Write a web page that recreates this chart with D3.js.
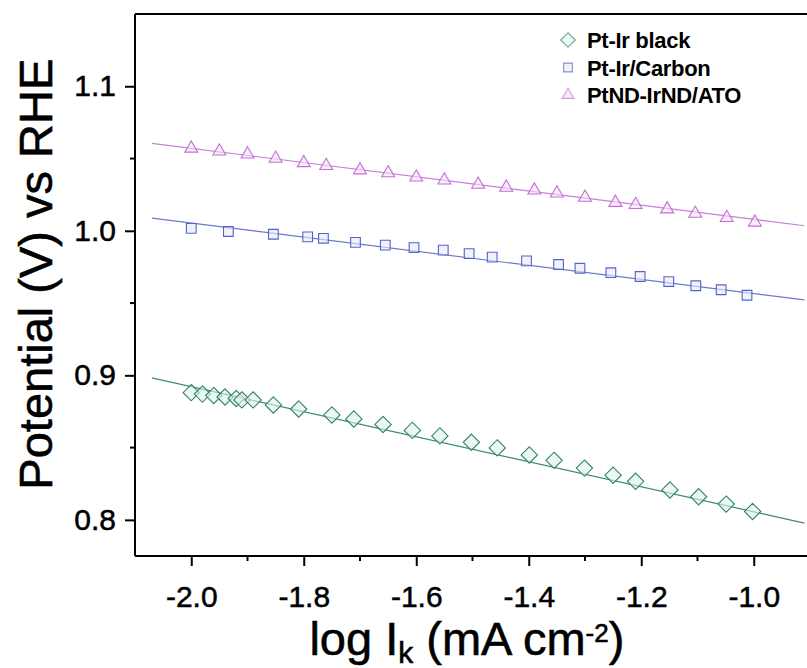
<!DOCTYPE html>
<html>
<head>
<meta charset="utf-8">
<script src="https://cdn.jsdelivr.net/npm/d3@7"></script>
<style>
  body { margin: 0; background: #fff; }
  svg { display: block; font-family: "Liberation Sans", Arial, sans-serif; }
</style>
</head>
<body>
<div id="chart"></div>
<script>
// data: log Ik vs potential (V vs RHE)
const blackX = [-2.00, -1.98, -1.96, -1.94, -1.92, -1.91, -1.89, -1.854, -1.809, -1.750, -1.711, -1.659, -1.607, -1.558, -1.502, -1.456, -1.399, -1.355, -1.301, -1.250, -1.210, -1.149, -1.098, -1.049, -1.002];
const blackY = [0.888, 0.887, 0.886, 0.885, 0.884, 0.883, 0.883, 0.8795, 0.8767, 0.8726, 0.8698, 0.8660, 0.8619, 0.8581, 0.8537, 0.8498, 0.8449, 0.8412, 0.8358, 0.8309, 0.8267, 0.8207, 0.8160, 0.8109, 0.8058];
const carbonX = [-2.000, -1.934, -1.854, -1.793, -1.765, -1.708, -1.655, -1.604, -1.552, -1.506, -1.465, -1.404, -1.347, -1.309, -1.254, -1.202, -1.151, -1.103, -1.058, -1.012];
const carbonY = [1.0017, 0.9995, 0.9976, 0.9958, 0.9948, 0.9920, 0.9901, 0.9884, 0.9866, 0.9842, 0.9818, 0.9792, 0.9767, 0.9741, 0.9710, 0.9684, 0.9649, 0.9620, 0.9592, 0.9554];
const atoX = [-2.00, -1.95, -1.90, -1.85, -1.80, -1.76, -1.70, -1.65, -1.60, -1.55, -1.49, -1.44, -1.39, -1.35, -1.30, -1.246, -1.210, -1.154, -1.104, -1.048, -0.998];
const atoY = [1.057, 1.055, 1.053, 1.050, 1.047, 1.045, 1.042, 1.040, 1.037, 1.035, 1.032, 1.030, 1.028, 1.026, 1.023, 1.0195, 1.018, 1.015, 1.012, 1.009, 1.0058];

// fitted lines (start, end)
const fitX = [-2.07, -0.91];
const blackFit = [0.8982, 0.7978];
const carbonFit = [1.0088, 0.9522];
const atoFit = [1.0605, 1.0035];

const seriesNames = ["Pt-Ir black", "Pt-Ir/Carbon", "PtND-IrND/ATO"];
const xTicks = [-2.0, -1.8, -1.6, -1.4, -1.2, -1.0];
const xMinor = [-1.9, -1.7, -1.5, -1.3, -1.1];
const yTicks = [0.8, 0.9, 1.0, 1.1];
const yMinor = [0.85, 0.95, 1.05];

const width = 807, height = 668;
const margin = { top: 14, left: 135, bottom: 112, right: -3 };

const svg = d3.select("#chart").append("svg")
    .attr("width", width)
    .attr("height", height);

const x = d3.scaleLinear().domain([-2.1, -0.9]).range([margin.left, width - margin.right]);
const y = d3.scaleLinear().domain([0.775, 1.15]).range([height - margin.bottom, margin.top]);

const series = [
    { name: seriesNames[0], xs: blackX, ys: blackY, fit: blackFit, color: "#2f8468", fill: "#dff0ea", line: "#3a8c70", shape: d3.symbolDiamond2, size: 170 },
    { name: seriesNames[1], xs: carbonX, ys: carbonY, fit: carbonFit, color: "#5563c8", fill: "#e6ebf8", line: "#6d78cf", shape: d3.symbolSquare2, size: 120 },
    { name: seriesNames[2], xs: atoX, ys: atoY, fit: atoFit, color: "#c56fd6", fill: "#f4e2f6", line: "#c77ed8", shape: d3.symbolTriangle2, size: 120 }
];

const plot = svg.append("g");

// fit lines
series.forEach(s => {
    plot.append("line")
        .attr("x1", x(fitX[0])).attr("y1", y(s.fit[0]))
        .attr("x2", x(fitX[1])).attr("y2", y(s.fit[1]))
        .attr("stroke", s.line)
        .attr("stroke-width", 1.2);
});

// markers
series.forEach(s => {
    plot.selectAll(null)
        .data(s.xs.map((v, i) => [v, s.ys[i]]))
        .enter()
        .append("path")
        .attr("d", d3.symbol().type(s.shape).size(s.size))
        .attr("transform", d => `translate(${x(d[0])},${y(d[1])})`)
        .attr("fill", s.fill)
        .attr("fill-opacity", 0.6)
        .attr("stroke", s.color)
        .attr("stroke-width", 1.1);
});

// top frame line
svg.append("line")
    .attr("x1", margin.left).attr("x2", width)
    .attr("y1", margin.top).attr("y2", margin.top)
    .attr("stroke", "#000").attr("stroke-width", 2);

// x axis
const xAxis = svg.append("g")
    .attr("transform", `translate(0,${height - margin.bottom})`)
    .call(d3.axisBottom(x).tickValues(xTicks).tickSize(10).tickFormat(d3.format(".1f")));
xAxis.select(".domain").attr("stroke-width", 2).attr("d", `M${margin.left},0H${width}`);
xAxis.selectAll(".tick line").attr("stroke-width", 2);
xAxis.selectAll(".tick text")
    .attr("font-size", 30)
    .attr("y", 51)
    .attr("dy", null)
    .attr("fill", "#000")
    .attr("stroke", "#000")
    .attr("stroke-width", 0.5)
    .text(d => d3.format(".1f")(d).replace("−", "-"));

xAxis.selectAll(".minor")
    .data(xMinor)
    .enter()
    .append("line")
    .attr("x1", d => x(d)).attr("x2", d => x(d))
    .attr("y1", 0).attr("y2", 5)
    .attr("stroke", "#000").attr("stroke-width", 2);

// y axis
const yAxis = svg.append("g")
    .attr("transform", `translate(${margin.left},0)`)
    .call(d3.axisLeft(y).tickValues(yTicks).tickSize(10).tickFormat(d3.format(".1f")));
yAxis.select(".domain").attr("stroke-width", 2).attr("d", `M0,${margin.top}V${height - margin.bottom}`);
yAxis.selectAll(".tick line").attr("stroke-width", 2);
yAxis.selectAll(".tick text")
    .attr("font-size", 30)
    .attr("x", -19)
    .attr("fill", "#000")
    .attr("stroke", "#000")
    .attr("stroke-width", 0.5);

yAxis.selectAll(".minor")
    .data(yMinor)
    .enter()
    .append("line")
    .attr("x1", 0).attr("x2", -5)
    .attr("y1", d => y(d)).attr("y2", d => y(d))
    .attr("stroke", "#000").attr("stroke-width", 2);

// axis titles
svg.append("text")
    .attr("transform", `translate(${52},${y(0.97)}) rotate(-90)`)
    .attr("text-anchor", "middle")
    .attr("font-size", 47)
    .attr("stroke", "#000")
    .attr("stroke-width", 0.6)
    .text("Potential (V) vs RHE");

const xTitle = svg.append("text")
    .attr("x", x(-1.51))
    .attr("y", 655)
    .attr("text-anchor", "middle")
    .attr("font-size", 47)
    .attr("stroke", "#000")
    .attr("stroke-width", 0.6);
xTitle.append("tspan").text("log I");
xTitle.append("tspan").attr("font-size", 30).attr("dy", 8).text("k");
xTitle.append("tspan").attr("dy", -8).text(" (mA cm");
xTitle.append("tspan").attr("font-size", 26).attr("dy", -13).text("-2");
xTitle.append("tspan").attr("dy", 13).text(")");

// legend
const legend = svg.append("g").attr("transform", "translate(568,40)");
series.forEach((s, i) => {
    const row = legend.append("g").attr("transform", `translate(0,${i * 27.5})`);
    row.append("path")
        .attr("d", d3.symbol().type(s.shape).size(s.size * 0.8))
        .attr("fill", s.fill)
        .attr("fill-opacity", 0.6)
        .attr("stroke", s.color)
        .attr("stroke-opacity", 0.7)
        .attr("stroke-width", 1.1);
    row.append("text")
        .attr("x", 19)
        .attr("y", 8)
        .attr("font-size", 22)
        .attr("font-weight", "bold")
        .attr("letter-spacing", -0.3)
        .text(s.name);
});
</script>
</body>
</html>
